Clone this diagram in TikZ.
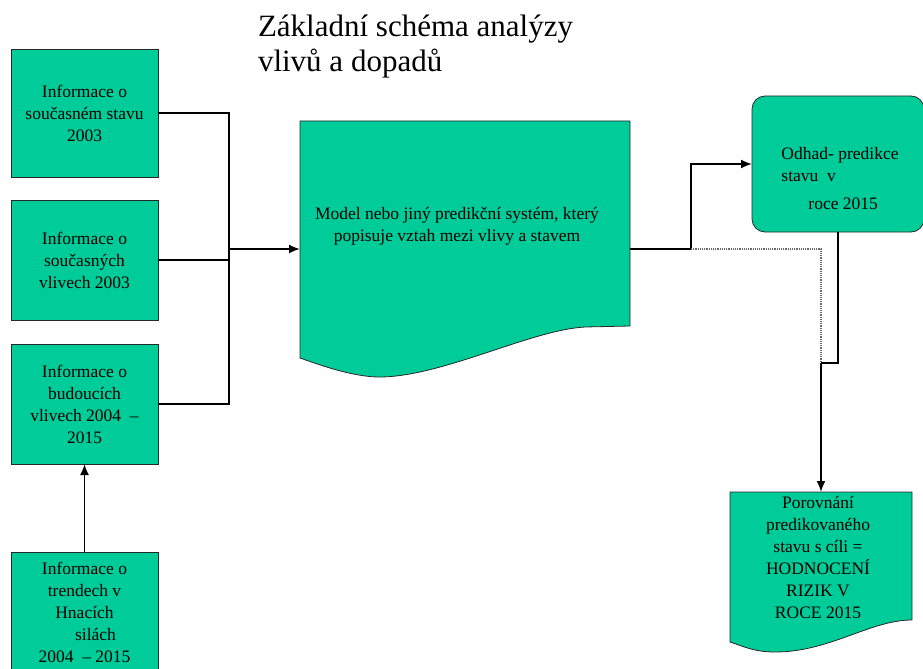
\documentclass[tikz,border=0pt]{standalone}
\usepackage{fontspec}
\setmainfont{Liberation Serif}
\usetikzlibrary{arrows.meta}
\definecolor{pdfcolor1}{RGB}{0,204,153}
\definecolor{pdfcolor2}{RGB}{105,105,105}
\definecolor{pdfcolor3}{RGB}{40,40,40}
\tikzset{
  infobox/.style={draw=pdfcolor3,fill=pdfcolor1,line width=0.8bp,minimum width=147bp,align=center,font=\fontsize{17.5bp}{22bp}\selectfont},
  docframe/.style={draw=pdfcolor3,fill=pdfcolor1,line width=0.8bp},
  textblock/.style={align=center,font=\fontsize{17.5bp}{22bp}\selectfont},
  conn/.style={draw=black,line width=1.8bp},
  connarrow/.style={conn,-{Latex[length=11bp,width=9bp]}},
  connfaint/.style={draw=pdfcolor2,line width=1.2bp,densely dotted},
}

\begin{document}
\begin{tikzpicture}[x=1bp,y=-1bp,inner sep=0pt,outer sep=0pt]
  \useasboundingbox (0,0) rectangle (923,669);
  % title
  \node[anchor=base west] (title1) at (258,37) {{\fontsize{31bp}{36bp}\selectfont Základní schéma analýzy}};
  \node[anchor=base west] (title2) at (258,72) {{\fontsize{31bp}{36bp}\selectfont vlivů a dopadů}};
  % input boxes
  \node[infobox,minimum height=128bp] (stav) at (84.5,113) {Informace o\\současném stavu\\2003};
  \node[infobox,minimum height=120bp] (vlivy) at (84.5,260) {Informace o\\současných\\vlivech 2003};
  \node[infobox,minimum height=120bp] (budouci) at (84.5,404) {Informace o\\budoucích\\vlivech 2004\ \ –\\2015};
  \node[infobox,minimum height=120bp] (trendy) at (84.5,612) {Informace o\\trendech v\\Hnacích\hspace{20bp}\\\hspace{22bp}silách\\2004\ \ – 2015};
  % model document
  \draw[docframe] (300,121) -- (630,121) -- (630,326) -- (585,327)
    .. controls (530,330) and (440,378) .. (377,377)
    .. controls (350,376) and (320,365) .. (300,358) -- cycle;
  \node[minimum width=330bp,minimum height=256bp] (model) at (465,249) {};
  \node[textblock] (modeltxt) at (457,226) {Model nebo jiný predikční systém, který\\popisuje vztah mezi vlivy a stavem};
  % prediction
  \node[draw=pdfcolor3,fill=pdfcolor1,line width=0.8bp,rounded corners=13bp,minimum width=172bp,minimum height=136bp] (odhad) at (838,164) {};
  \node[textblock,align=left] (odhadtxt) at (840,179) {Odhad- predikce\\stavu\ \ v\\[6bp]\hspace{27bp}roce 2015};
  % comparison document
  \draw[docframe] (730,492) -- (912,492) -- (912,620)
    .. controls (870,620) and (830,652) .. (775,652)
    .. controls (755,652) and (745,647) .. (730,642) -- cycle;
  \node[minimum width=182bp,minimum height=160bp] (porov) at (821,572) {};
  \node[textblock] (porovtxt) at (818,557) {Porovnání\\predikovaného\\stavu s cíli =\\HODNOCENÍ\\RIZIK V\\ROCE 2015};
  % connectors
  \coordinate (bus) at (229,249);
  \coordinate (split) at (691,249);
  \coordinate (merge) at (821,363);
  \draw[conn] (stav.east) -| (bus |- budouci.east) -- (budouci.east);
  \draw[conn] (vlivy.east) -- (bus |- vlivy.east);
  \draw[connarrow] (bus) -- (model.west);
  \draw[connarrow] (trendy.north) -- (budouci.south);
  \draw[conn] (model.east) -- (split);
  \draw[connarrow] (split) |- (odhad.west);
  \draw[connfaint] (split) -| (merge);
  \draw[conn] (odhad.south) |- (merge);
  \draw[connarrow] (merge) -- (porov.north);
\end{tikzpicture}
\end{document}
